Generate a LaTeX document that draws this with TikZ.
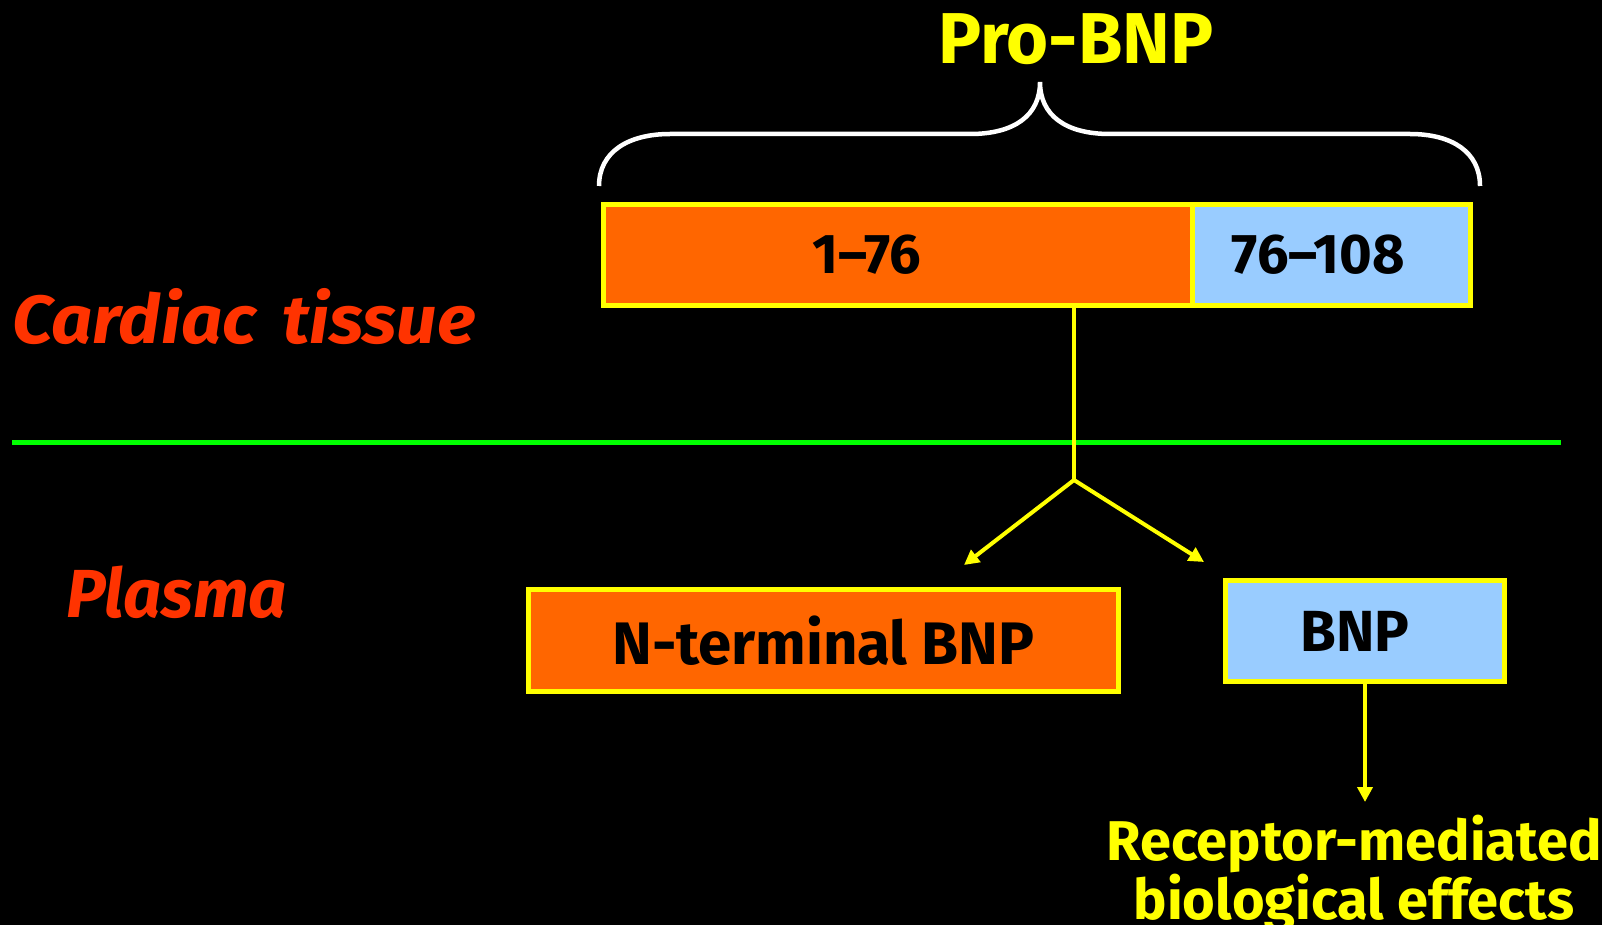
\documentclass[tikz,border=0pt]{standalone}
\usepackage{fontspec}
\setmainfont{Fira Sans}
\usetikzlibrary{arrows.meta}
\definecolor{bgblack}{HTML}{000000}
\definecolor{ylw}{HTML}{FFFF00}
\definecolor{orng}{HTML}{FF6600}
\definecolor{lblue}{HTML}{99CCFF}
\definecolor{grn}{HTML}{00FF00}
\definecolor{redtxt}{HTML}{FF3300}
\tikzset{
  segbox/.style={draw=ylw, line width=5pt, inner sep=0pt, anchor=north west, font=\bfseries\fontsize{56}{60}\selectfont, text=black},
  conn/.style={draw=ylw, line width=4pt},
  arr/.style={conn, -{Triangle[length=15pt,width=15pt]}},
  region/.style={text=redtxt, font=\bfseries\itshape\fontsize{68}{72}\selectfont, inner sep=0pt, anchor=base west},
}
\begin{document}
\begin{tikzpicture}[x=1pt,y=-1pt]
\fill[bgblack] (0,0) rectangle (1602,925);
\useasboundingbox (0,0) rectangle (1602,925);

% title and brace
\node[text=ylw, font=\bfseries\fontsize{72}{76}\selectfont, inner sep=0pt, anchor=base] (title) at (1076,64) {Pro-BNP};
\draw[white, line width=4.5pt] (599,186) .. controls (599,152) and (628,134) .. (670,134) -- (970,134)
  .. controls (1015,134) and (1040,115) .. (1040,82)
  .. controls (1040,115) and (1065,134) .. (1110,134) -- (1410,134)
  .. controls (1452,134) and (1480,152) .. (1480,186);

% pro-BNP bar
\node[segbox, fill=orng, minimum width=589pt, minimum height=101pt] (nseg) at (601,202) {\hspace*{-62pt}1--76};
\node[segbox, fill=lblue, minimum width=278pt, minimum height=101pt] (cseg) at (1190,202) {\hspace*{-26pt}76--108};

% regions
\node[region] (cardiac) at (12,343) {\scalebox{1.06}[1]{Cardiac}\hspace{26pt}\scalebox{1.06}[1]{tissue}};
\node[region] (plasma) at (66,617) {\scalebox{0.98}[1]{Plasma}};
\coordinate (gl) at (12,442);
\coordinate (gr) at (1561,442);
\draw[grn, line width=5pt] (gl) -- (gr);

% plasma boxes
\node[segbox, fill=orng, minimum width=590pt, minimum height=102pt, font=\bfseries\fontsize{60}{64}\selectfont] (nterm) at (526,587) {N-terminal BNP};
\node[segbox, fill=lblue, minimum width=279pt, minimum height=101pt, font=\bfseries\fontsize{58}{62}\selectfont] (bnp) at (1223,578) {\hspace*{-20pt}BNP};

% cleavage connectors
\coordinate (split) at (1074,480);
\coordinate (tipA) at (964,565);
\coordinate (tipB) at (1204,562);
\draw[conn] (split |- nseg.south) -- (split);
\draw[arr] (split) -- (tipA);
\draw[arr] (split) -- (tipB);

% effects
\node[text=ylw, font=\bfseries\fontsize{56}{57}\selectfont, align=center, inner sep=0pt, anchor=north] (effects) at (1354,815) {Receptor-mediated\\biological effects};
\draw[arr] (bnp.south) -- ++(0,118) coordinate (tipC);
\end{tikzpicture}
\end{document}
